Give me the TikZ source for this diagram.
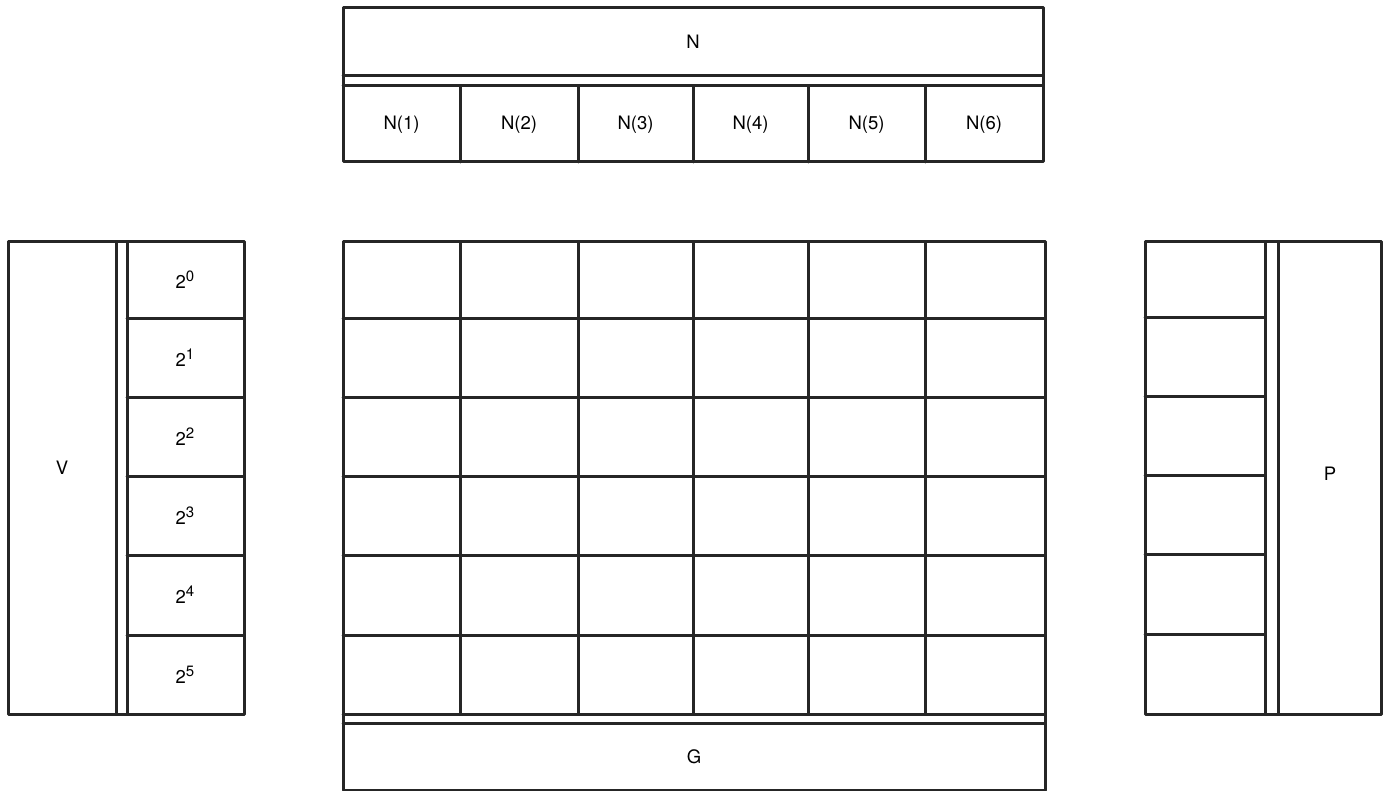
\documentclass[tikz,border=0pt]{standalone}
\usepackage{fontspec}
\setmainfont{TeX Gyre Heros}
\begin{document}
\begin{tikzpicture}[x=1pt,y=-1pt,
  ln/.style={line width=3pt, line cap=round, line join=round, black!85},
  lbl/.style={font=\fontsize{18.5}{20}\selectfont, inner sep=0pt}]
\useasboundingbox (0,0) rectangle (1388,791);
% ---- top N block
\draw[ln] (343,8) rectangle (1043,162);
\draw[ln] (343,76) -- (1043,76);
\draw[ln] (343,86) -- (1043,86);
\foreach \x in {460,578,693,808,925}{\draw[ln] (\x,86) -- (\x,162);}
\node[lbl] (N) at (693,42) {N};
\foreach \a/\b [count=\i] in {343/460,460/578,578/693,693/808,808/925,925/1043}{
  \node[lbl] (N\i) at ({(\a+\b)/2},125) {N(\i)};}
% ---- left V block
\draw[ln] (8,242) rectangle (244,714);
\draw[ln] (116,242) -- (116,714);
\draw[ln] (127,242) -- (127,714);
\foreach \y in {318,397,476,555,635}{\draw[ln] (127,\y) -- (244,\y);}
\node[lbl] (V) at (62,468) {V};
\foreach \a/\b [count=\i from 0] in {242/318,318/397,397/476,476/555,555/635,635/714}{
  \node[lbl] (p\i) at (185,{(\a+\b)/2}) {2\raisebox{0.75ex}{\fontsize{15}{16}\selectfont\i}};}
% ---- central grid
\draw[ln] (343,242) rectangle (1045,790);
\foreach \x in {460,578,693,808,925}{\draw[ln] (\x,242) -- (\x,714);}
\foreach \y in {318,397,476,555,635,714}{\draw[ln] (343,\y) -- (1045,\y);}
\draw[ln] (343,723) -- (1045,723);
\node[lbl] (G) at (694,757) {G};
% ---- right P block
\draw[ln] (1145,242) rectangle (1381,714);
\draw[ln] (1265,242) -- (1265,714);
\draw[ln] (1278,242) -- (1278,714);
\foreach \y in {317,396,475,554,634}{\draw[ln] (1145,\y) -- (1265,\y);}
\node[lbl] (P) at (1330,474) {P};
\end{tikzpicture}
\end{document}
